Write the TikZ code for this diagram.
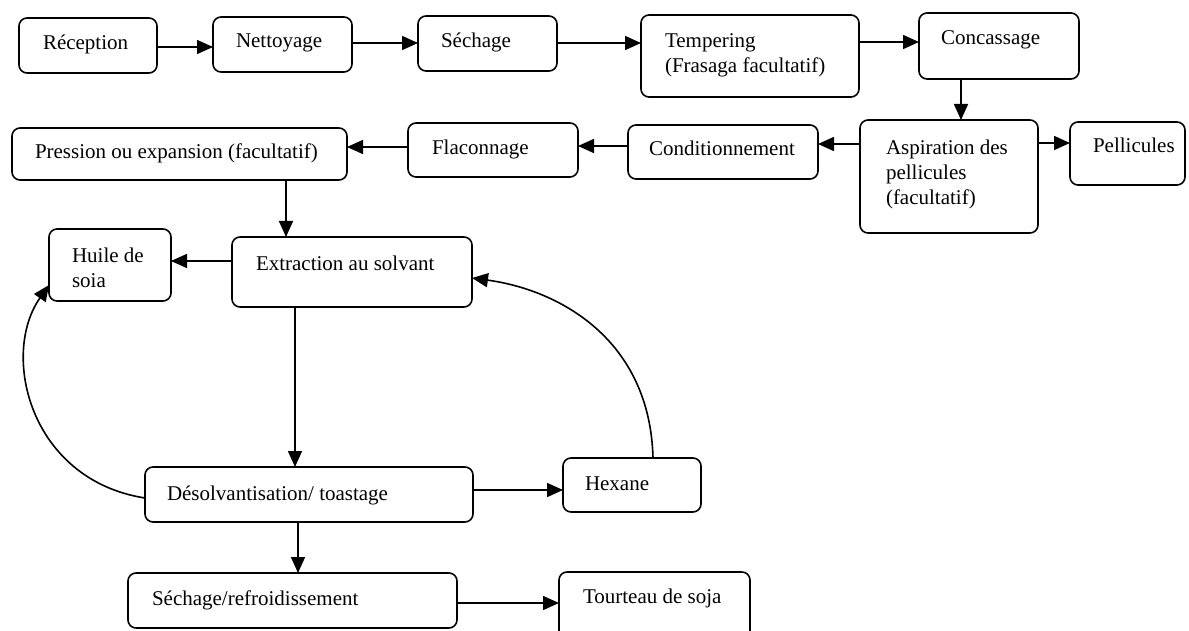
\documentclass[tikz,border=0pt]{standalone}
\usepackage{fontspec}
\setmainfont{Liberation Serif}
\usetikzlibrary{arrows.meta}
\tikzset{
  box/.style={draw, line width=1.6pt, rounded corners=8pt, inner sep=0pt, outer sep=0pt},
  txt/.style={inner sep=0pt, outer sep=0pt, anchor=base west, font=\fontsize{21}{25}\selectfont},
  arr/.style={line width=1.6pt, -{Triangle[length=16pt,width=14pt]}},
  lnk/.style={line width=1.6pt}
}
\newcommand\bx[5]{\node[box, minimum width={(#4-#2)*1pt}, minimum height={(#5-#3)*1pt}] (#1) at ({(#2+#4)/2},{(#3+#5)/2}) {};}
\newcommand\ml[1]{\begin{tabular}[t]{@{}l@{}}#1\end{tabular}}
\begin{document}
\begin{tikzpicture}[x=1pt,y=-1pt]
\useasboundingbox (0,0) rectangle (1189,631);
\fill[white] (0,0) rectangle (1189,631);
\clip (0,0) rectangle (1189,631);
% boxes
\bx{rec}{19}{18}{157}{73}
\bx{net}{213}{17}{352}{72}
\bx{sec}{418}{16}{557}{71}
\bx{tem}{641}{15}{859}{97}
\bx{con}{919}{13}{1079}{79}
\bx{asp}{860}{120}{1038}{233}
\bx{pel}{1070}{122}{1185}{185}
\bx{cnd}{628}{125}{818}{179}
\bx{fla}{408}{123}{578}{177}
\bx{pre}{12}{128}{347}{180}
\bx{hui}{49}{229}{171}{301}
\bx{ext}{232}{237}{472}{307}
\bx{des}{145}{467}{473}{522}
\bx{hex}{563}{458}{701}{512}
\bx{sr}{128}{573}{457}{628}
\bx{tou}{559}{572}{750}{645}
% texts
\node[txt] (trec) at (43,50) {Réception};
\node[txt] (tnet) at (236,48) {Nettoyage};
\node[txt] (tsec) at (441,48) {Séchage};
\node[txt] (ttem) at (665,48) {\ml{Tempering\\(Frasaga facultatif)}};
\node[txt] (tcon) at (941,45) {Concassage};
\node[txt] (tasp) at (886,155) {\ml{Aspiration des\\pellicules\\(facultatif)}};
\node[txt] (tpel) at (1093,153) {Pellicules};
\node[txt] (tcnd) at (649,156) {Conditionnement};
\node[txt] (tfla) at (432,155) {Flaconnage};
\node[txt] (tpre) at (35,159) {Pression ou expansion (facultatif)};
\node[txt] (thui) at (72,262) {\ml{Huile de\\soia}};
\node[txt] (text) at (256,270) {Extraction au solvant};
\node[txt] (tdes) at (167,500) {Désolvantisation/ toastage};
\node[txt] (thex) at (585,490) {Hexane};
\node[txt] (tsr) at (152,605) {Séchage/refroidissement};
\node[txt] (ttou) at (583,603) {Tourteau de soja};
% levels
\coordinate (l1) at (0,47);
\coordinate (l2) at (0,43);
\coordinate (l3) at (0,42);
\coordinate (l4) at (961,0);
\coordinate (l5) at (0,143);
\coordinate (l6) at (0,144);
\coordinate (l7) at (0,146);
\coordinate (l8) at (0,147);
\coordinate (l9) at (286,0);
\coordinate (l10) at (0,261);
\coordinate (l11) at (295,0);
\coordinate (l12) at (0,490);
\coordinate (l13) at (298,0);
\coordinate (l14) at (0,603);
\coordinate (l15) at (0,278);
\coordinate (l16) at (0,498);
\coordinate (l17) at (0,285);
\coordinate (l18) at (653,0);
% connectors
\draw[arr] (rec.east |- l1) -- (net.west |- l1);
\draw[arr] (net.east |- l2) -- (sec.west |- l2);
\draw[arr] (sec.east |- l2) -- (tem.west |- l2);
\draw[arr] (tem.east |- l3) -- (con.west |- l3);
\draw[arr] (con.south -| l4) -- (asp.north -| l4);
\draw[arr] (asp.east |- l5) -- (pel.west |- l5);
\draw[arr] (asp.west |- l6) -- (cnd.east |- l6);
\draw[arr] (cnd.west |- l7) -- (fla.east |- l7);
\draw[arr] (fla.west |- l8) -- (pre.east |- l8);
\draw[arr] (pre.south -| l9) -- (ext.north -| l9);
\draw[arr] (ext.west |- l10) -- (hui.east |- l10);
\draw[arr] (ext.south -| l11) -- (des.north -| l11);
\draw[arr] (des.east |- l12) -- (hex.west |- l12);
\draw[arr] (des.south -| l13) -- (sr.north -| l13);
\draw[arr] (sr.east |- l14) -- (tou.west |- l14);
\draw[arr] (hex.north -| l18) .. controls (650,340) and (560,290) .. (ext.east |- l15);
\draw[arr] (des.west |- l16) .. controls (30,480) and (0,355) .. (hui.west |- l17);
\end{tikzpicture}
\end{document}
